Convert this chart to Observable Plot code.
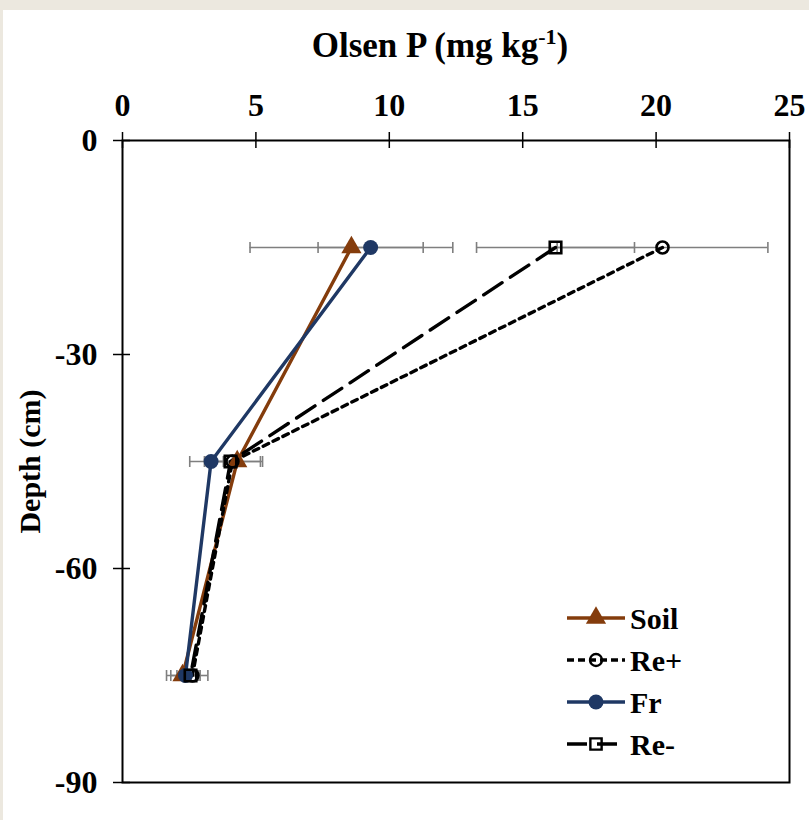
<!DOCTYPE html>
<html>
<head>
<meta charset="utf-8">
<script src="https://cdn.jsdelivr.net/npm/d3@7"></script>
<script src="https://cdn.jsdelivr.net/npm/@observablehq/plot@0.6"></script>
<style>
  html, body { margin: 0; padding: 0; }
  #wrap { position: relative; width: 809px; height: 820px; background: #ece8df; overflow: hidden; }
  #paper { position: absolute; left: 3px; top: 10px; width: 806px; height: 810px; background: #ffffff; }
  #chart { position: absolute; left: 0; top: 0; }
</style>
</head>
<body>
<div id="wrap"><div id="paper"></div><div id="chart"></div></div>
<script>
// ---- data ----
const depths = [-15, -45, -75];
const seriesNames = ["Soil", "Re+", "Fr", "Re-"];
const soilP = [8.58, 4.30, 2.25];
const soilSD = [3.80, 0.95, 0.60];
const rePlusP = [20.24, 4.12, 2.62];
const rePlusSD = [3.95, 1.05, 0.58];
const frP = [9.30, 3.32, 2.36];
const frSD = [1.97, 0.80, 0.55];
const reMinusP = [16.23, 4.05, 2.55];
const reMinusSD = [2.96, 0.27, 0.30];
const xTicks = [0, 5, 10, 15, 20, 25];
const yTicks = [0, -30, -60, -90];
const xTitle = "Olsen P (mg kg";
const xTitleSup = "-1";
const yTitle = "Depth (cm)";

// ---- styles ----
const styles = {
  "Soil": {color: "#843C0C", dash: null, legDash: null, symbol: "triangle", fill: "#843C0C", r: 7.5},
  "Re+": {color: "#000000", dash: "6,5", legDash: "7,4", symbol: "circle", fill: "none", r: 6},
  "Fr":  {color: "#1F3864", dash: null, legDash: null, symbol: "circle", fill: "#1F3864", r: 7.5},
  "Re-": {color: "#000000", dash: "22,10", legDash: "20,10", symbol: "square", fill: "none", r: 6.5}
};
const valuesByName = {"Soil": [soilP, soilSD], "Re+": [rePlusP, rePlusSD], "Fr": [frP, frSD], "Re-": [reMinusP, reMinusSD]};

const rows = [];
for (const name of seriesNames) {
  const [v, sd] = valuesByName[name];
  depths.forEach((d, i) => rows.push({name, depth: d, p: v[i], sd: sd[i]}));
}
const caps = rows.flatMap(r => [{depth: r.depth, x: r.p - r.sd}, {depth: r.depth, x: r.p + r.sd}]);

const capSymbol = {draw(ctx, size) { const h = Math.sqrt(size / Math.PI); ctx.moveTo(0, -h); ctx.lineTo(0, h); }};

const W = 809, H = 820, mL = 122, mR = 20, mT = 140, mB = 38;
const plotW = W - mL - mR, plotH = H - mT - mB;
const serif = "'Liberation Serif', 'Times New Roman', serif";

const marks = [
  Plot.ruleY(rows, {y: "depth", x1: d => d.p - d.sd, x2: d => d.p + d.sd, stroke: "#7f7f7f", strokeWidth: 1.6}),
  Plot.dot(caps, {x: "x", y: "depth", symbol: capSymbol, r: 5.5, stroke: "#7f7f7f", strokeWidth: 1.6})
];
for (const name of seriesNames) {
  const s = styles[name];
  const data = rows.filter(r => r.name === name);
  marks.push(Plot.line(data, {x: "p", y: "depth", stroke: s.color, strokeWidth: 3.4, strokeDasharray: s.dash}));
}
for (const name of seriesNames) {
  const s = styles[name];
  const data = rows.filter(r => r.name === name);
  marks.push(Plot.dot(data, {x: "p", y: "depth", symbol: s.symbol, r: s.r,
    fill: s.fill, stroke: s.fill === "none" ? s.color : "none", strokeWidth: 2.6}));
}
marks.push(
  Plot.frame({stroke: "#000", strokeWidth: 2}),
  Plot.tickX(xTicks, {x: d => d, stroke: "#000", strokeWidth: 1.5, insetTop: -8, insetBottom: plotH - 8}),
  Plot.tickY(yTicks, {y: d => d, stroke: "#000", strokeWidth: 1.5, insetLeft: -9, insetRight: plotW - 8}),
  Plot.axisX({anchor: "top", ticks: xTicks, tickSize: 0, tickPadding: 25, label: null,
    tickFormat: d => String(d), fill: "#000"}),
  Plot.axisY({anchor: "left", ticks: yTicks, tickSize: 0, tickPadding: 25, label: yTitle,
    tickFormat: d => String(d),
    labelAnchor: "center", labelArrow: "none", labelOffset: 104, fill: "#000"})
);

const chart = Plot.plot({
  width: W, height: H,
  marginLeft: mL, marginRight: mR, marginTop: mT, marginBottom: mB,
  x: {domain: [0, 25]},
  y: {domain: [-90, 0]},
  style: {background: "transparent", fontFamily: serif, fontWeight: "bold", color: "#000"},
  marks
});
document.getElementById("chart").appendChild(chart);

const svg = d3.select(chart);
svg.selectAll("g[aria-label='x-axis tick label'], g[aria-label='y-axis tick label']")
  .attr("font-size", 32).style("font-size", "32px").attr("font-weight", "bold");
svg.selectAll("g[aria-label='x-axis tick label'] text, g[aria-label='y-axis tick label'] text")
  .style("font-size", "32px");
svg.selectAll("g[aria-label='y-axis label']").attr("font-size", 30).style("font-size", "30px");
svg.selectAll("g[aria-label='y-axis label'] text").style("font-size", "30px");

// title with superscript
const t = svg.append("text")
  .attr("x", 440).attr("y", 57)
  .attr("text-anchor", "middle")
  .attr("font-family", serif)
  .attr("font-weight", "bold").style("font-size", "35px").attr("fill", "#000");
t.append("tspan").text(xTitle);
t.append("tspan").text(xTitleSup).style("font-size", "22px").attr("dy", -13);
t.append("tspan").text(")").attr("dy", 13);

// legend
const leg = svg.append("g").attr("font-family", serif)
  .attr("font-weight", "bold").style("font-size", "30px").attr("text-anchor", "start");
const symPaths = {triangle: d3.symbolTriangle, circle: d3.symbolCircle, square: d3.symbolSquare};
seriesNames.forEach((name, i) => {
  const s = styles[name];
  const cy = 618 + i * 42;
  const g = leg.append("g").attr("transform", `translate(0,${cy})`);
  g.append("line").attr("x1", 567).attr("x2", 625).attr("y1", 0).attr("y2", 0)
    .attr("stroke", s.color).attr("stroke-width", 3.4)
    .attr("stroke-dasharray", s.legDash);
  const size = s.symbol === "square" ? (s.r * 2) ** 2 * 0.75 : Math.PI * s.r * s.r;
  g.append("path").attr("transform", "translate(596,0)")
    .attr("d", d3.symbol(symPaths[s.symbol], size)())
    .attr("fill", s.fill === "none" ? "none" : s.fill)
    .attr("stroke", s.fill === "none" ? s.color : "none").attr("stroke-width", 2.4);
  g.append("text").attr("x", 630).attr("y", 0).attr("dy", "0.35em").attr("fill", "#000").text(name);
});
</script>
</body>
</html>
